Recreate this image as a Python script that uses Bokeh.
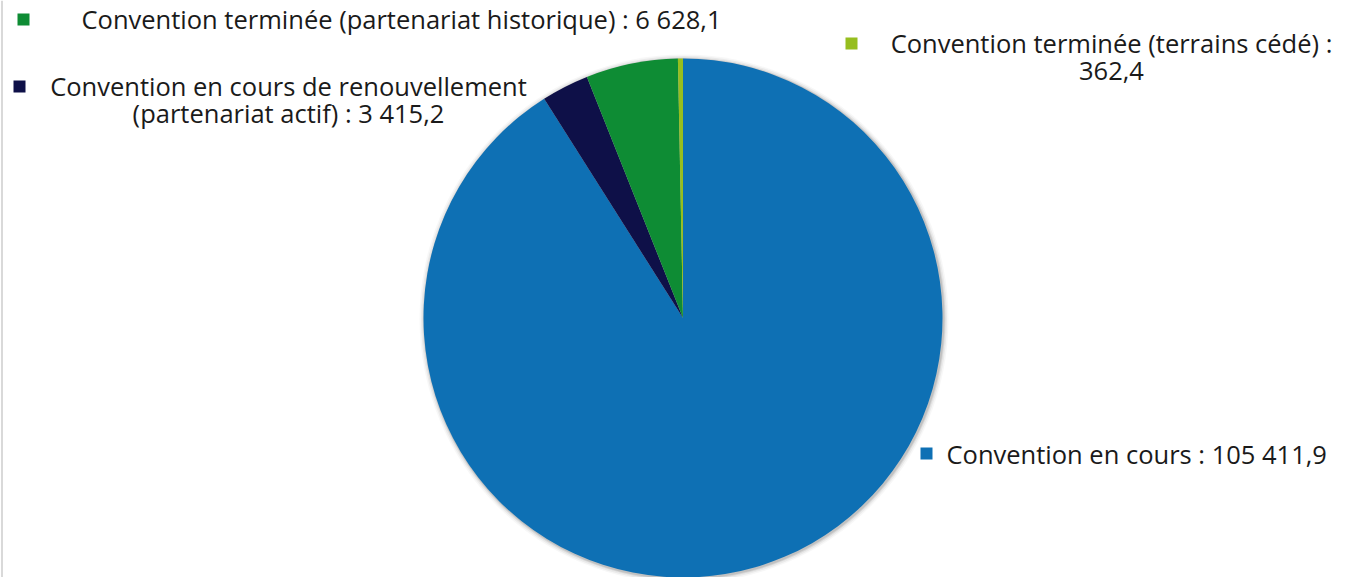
import numpy as np
from bokeh.plotting import figure
from bokeh.models import Range1d, ColumnDataSource
from bokeh.core.properties import value
from bokeh.embed import file_html
from bokeh.resources import INLINE

# ---- data ----
categories = [
    "Convention en cours",
    "Convention en cours de renouvellement\n(partenariat actif)",
    "Convention terminée (partenariat historique)",
    "Convention terminée (terrains cédé)",
]
values = [105411.9, 3415.2, 6628.1, 362.4]
colors = ["#0E70B4", "#0E1048", "#0E8C34", "#96BE1E"]
separators = [" : ", " : ", " : ", " :\n"]

def fr(v):
    return f"{v:,.1f}".replace(",", " ").replace(".", ",")

labels = [f"{c}{s}{fr(v)}" for c, s, v in zip(categories, separators, values)]

# ---- layout (pixel space, y measured from top) ----
W, H = 1347, 577
def X(xr):
    return xr
def Y(yr):
    return H - yr

cx, cy, R = X(682.5), Y(317.5), 259.5

vals = np.array(values)
frac = vals / vals.sum()
cum = np.concatenate([[0], np.cumsum(frac)])
start = np.pi / 2 - 2 * np.pi * cum[:-1]
end = np.pi / 2 - 2 * np.pi * cum[1:]

p = figure(width=W, height=H, x_range=Range1d(0, W), y_range=Range1d(0, H),
           output_backend="svg", toolbar_location=None,
           x_axis_location=None, y_axis_location=None,
           min_border=0, outline_line_color=None)
p.grid.visible = False
p.background_fill_color = "white"
p.border_fill_color = "white"

# thin left frame line
p.segment(x0=[1.5], y0=[0], x1=[1.5], y1=[H], line_color="#d9d9d9", line_width=2)

# soft shadow
for dr, a in [(5, 0.03), (3.5, 0.05), (2, 0.08), (1, 0.10)]:
    p.circle(x=[cx + 1], y=[cy - 1], radius=R + dr, fill_color="#000000",
             fill_alpha=a, line_color=None)

src = ColumnDataSource(dict(start=start, end=end, color=colors))
p.wedge(x=cx, y=cy, radius=R, start_angle="start", end_angle="end",
        direction="clock", fill_color="color", line_color=None, source=src)

font = value("Open Sans")
fs = "25.5px"

# label placements: (marker x, marker y, text x, text y, align)
place = [
    (926, 453, 946, 453, "left"),
    (19, 86, 288, 68, "center"),
    (23, 19, 81, 18, "left"),
    (851, 43, 1111, 25, "center"),
]
for (mx, my, tx, ty, al), lab, col in zip(place, labels, colors):
    p.scatter(x=[X(mx)], y=[Y(my)], marker="square", size=12,
              fill_color=col, line_color=None)
    if al == "left":
        p.text(x=[X(tx)], y=[Y(ty)], text=[lab], text_font=font,
               text_font_size=fs, text_align="left", text_baseline="middle",
               text_color="#1a1a1a")
    else:
        p.text(x=[X(tx)], y=[Y(ty)], text=[lab], text_font=font,
               text_font_size=fs, text_align="center", text_baseline="top",
               text_line_height=0.81, text_color="#1a1a1a")

open("out.html", "w").write(file_html(p, INLINE))
